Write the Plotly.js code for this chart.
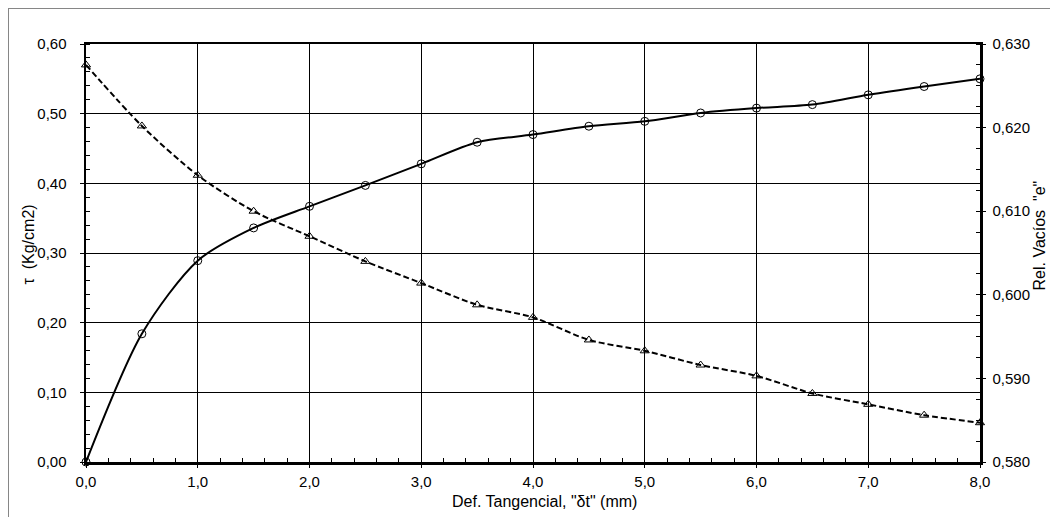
<!DOCTYPE html>
<html>
<head>
<meta charset="utf-8">
<script src="https://cdn.plot.ly/plotly-3.0.1.min.js"></script>
<style>
  html, body { margin: 0; padding: 0; background: #fff; overflow: hidden; }
  #wrap { position: relative; width: 1050px; height: 517px; }
  #chart { position: absolute; left: 0; top: 0; width: 1050px; height: 517px; }
  #frame { position: absolute; left: 8px; top: 8px; width: 1100px; height: 600px;
           border: 1px solid #868686; pointer-events: none; }
</style>
</head>
<body>
<div id="wrap">
  <div id="chart"></div>
  <div id="frame"></div>
</div>
<script>
// Deformación tangencial (mm)
const defTangencial = [0.0, 0.5, 1.0, 1.5, 2.0, 2.5, 3.0, 3.5, 4.0, 4.5, 5.0, 5.5, 6.0, 6.5, 7.0, 7.5, 8.0];
// Esfuerzo cortante τ (Kg/cm2)
const tau = [0.000, 0.184, 0.289, 0.336, 0.367, 0.397, 0.428, 0.459, 0.470, 0.482, 0.489, 0.501, 0.508, 0.513, 0.527, 0.539, 0.550];
// Relación de vacíos "e"
const relVacios = [0.6275, 0.6202, 0.6143, 0.6100, 0.6070, 0.6040, 0.6014, 0.5988, 0.5973, 0.5946, 0.5933, 0.5916, 0.5903, 0.5882, 0.5869, 0.5856, 0.5847];

const xTitle = 'Def. Tangencial, "δt" (mm)';
const yTitle = 'τ  (Kg/cm2)';
const y2Title = 'Rel. Vacíos  "e"';

const FONT = '"Liberation Sans", Arial, sans-serif';

const traces = [
  {
    x: defTangencial, y: tau, type: 'scatter', mode: 'lines+markers',
    name: 'τ', yaxis: 'y', cliponaxis: false,
    line: { color: '#000', width: 2, shape: 'spline', smoothing: 0.8 },
    marker: { symbol: 'circle-open', size: 8, color: '#000', line: { width: 1, color: '#000' } }
  },
  {
    x: defTangencial, y: relVacios, type: 'scatter', mode: 'lines+markers',
    name: 'e', yaxis: 'y2', cliponaxis: false,
    line: { color: '#000', width: 2, dash: '6px,3px', shape: 'spline', smoothing: 0.8 },
    marker: { symbol: 'triangle-up-open', size: 8, color: '#000', line: { width: 1, color: '#000' } }
  }
];

const layout = {
  width: 1050, height: 517,
  margin: { l: 86, r: 70, t: 44, b: 55, pad: 0 },
  paper_bgcolor: '#fff', plot_bgcolor: '#fff',
  showlegend: false,
  separators: ',.',
  font: { family: FONT, color: '#000', size: 15 },
  xaxis: {
    range: [0, 8], dtick: 1, tick0: 0, tickformat: '.1f',
    showgrid: true, gridcolor: '#000', gridwidth: 1,
    showline: true, linecolor: '#000', linewidth: 2.5, mirror: true,
    ticks: 'outside', ticklen: 3, tickcolor: '#000', tickwidth: 1,
    minor: { dtick: 0.2, ticks: 'inside', ticklen: 4, tickcolor: '#000', tickwidth: 1, showgrid: false },
    tickfont: { size: 15, family: FONT },
    ticklabelstandoff: 1,
    zeroline: false, fixedrange: true
  },
  yaxis: {
    range: [0, 0.6], dtick: 0.1, tick0: 0, tickformat: '.2f',
    showgrid: true, gridcolor: '#000', gridwidth: 1,
    showline: true, linecolor: '#000', linewidth: 2.5,
    ticks: 'outside', ticklen: 4, tickcolor: '#000', tickwidth: 1,
    minor: { dtick: 0.02, ticks: 'inside', ticklen: 4, tickcolor: '#000', tickwidth: 1, showgrid: false },
    tickfont: { size: 15, family: FONT },
    ticklabelstandoff: 10,
    zeroline: false, fixedrange: true
  },
  yaxis2: {
    overlaying: 'y', side: 'right',
    range: [0.58, 0.63], dtick: 0.01, tick0: 0.58, tickformat: '.3f',
    showgrid: false,
    showline: true, linecolor: '#000', linewidth: 2.5,
    ticks: 'outside', ticklen: 3, tickcolor: '#000', tickwidth: 1,
    minor: { dtick: 0.0025, ticks: 'inside', ticklen: 4, tickcolor: '#000', tickwidth: 1, showgrid: false },
    tickfont: { size: 15, family: FONT },
    ticklabelstandoff: 4,
    zeroline: false, fixedrange: true
  },
  annotations: [
    { text: xTitle, xref: 'paper', yref: 'paper', x: (544 - 86) / 894, y: (462.5 - 502) / 418,
      xanchor: 'center', yanchor: 'middle', showarrow: false, font: { size: 16, family: FONT, color: '#000' } },
    { text: yTitle, xref: 'paper', yref: 'paper', x: (28 - 86) / 894, y: (462.5 - 245) / 418,
      xanchor: 'center', yanchor: 'middle', textangle: -90, showarrow: false, font: { size: 16, family: FONT, color: '#000' } },
    { text: y2Title, xref: 'paper', yref: 'paper', x: (1039 - 86) / 894, y: (462.5 - 236) / 418,
      xanchor: 'center', yanchor: 'middle', textangle: -90, showarrow: false, font: { size: 16, family: FONT, color: '#000' } }
  ]
};

Plotly.newPlot('chart', traces, layout, { displayModeBar: false, staticPlot: true });
</script>
</body>
</html>
